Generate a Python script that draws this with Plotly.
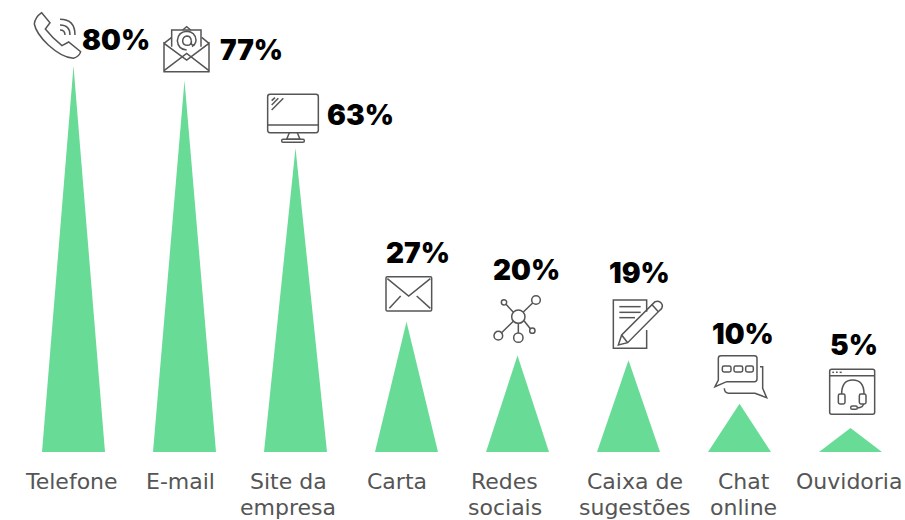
import re
import plotly.graph_objects as go

categories = ["Telefone", "E-mail", "Site da<br>empresa", "Carta", "Redes<br>sociais",
              "Caixa de<br>sugestões", "Chat<br>online", "Ouvidoria"]
values = [80, 77, 63, 27, 20, 19, 10, 5]

W, H = 905, 520
BASE = 452          # pixel row of the baseline
PX_PER_UNIT = 4.825
STEP = 111
FIRST = 73.5
HALF = 31.5 / STEP
GREEN = "#68DB96"
GREY = "#555555"
LABEL_FONT = "DejaVu Sans"
LINE_GAP = 26

# pixel offsets of the labels from their marks
label_dx = [-2.5, -4.5, -7.5, -9.5, -13, 6, 4, -2]
value_dx = [42.5, 66.5, 64.5, 11, 9, 11, 3, 3]
value_dy = [26, 30, 33, 69, 85.5, 87, 70, 83]


def px(x):
    return x / W


def py(y):
    return (BASE - y) / BASE


def path_shape(d, ox, oy):
    """Icon outline: d is written in 3x zoom units around pixel origin (ox, oy)."""
    toks = re.findall(r"[MLQCZ]|-?\d+\.?\d*", d)
    out, is_x = [], True
    for t in toks:
        if t in "MLQCZ":
            out.append(t)
            is_x = True
        else:
            v = float(t) / 3
            out.append(f"{px(ox + v):.5f}" if is_x else f"{py(oy + v):.5f}")
            is_x = not is_x
    s = []
    i = 0
    while i < len(out):
        t = out[i]
        if t == "Z":
            s.append("Z")
            i += 1
        else:
            j = i + 1
            nums = []
            while j < len(out) and out[j] not in "MLQCZ":
                nums.append(out[j])
                j += 1
            s.append(t + " ".join(f"{nums[k]},{nums[k+1]}" for k in range(0, len(nums), 2)))
            i = j
    return dict(type="path", xref="paper", yref="paper", path=" ".join(s),
                line=dict(color=GREY, width=1.5), layer="above")


def circ(cx, cy, r, ox, oy, width=1.5):
    return dict(type="circle", xref="paper", yref="paper",
                x0=px(ox + (cx - r) / 3), x1=px(ox + (cx + r) / 3),
                y0=py(oy + (cy + r) / 3), y1=py(oy + (cy - r) / 3),
                line=dict(color=GREY, width=width), layer="above")


def rrect(x0, y0, x1, y1, r):
    return (f"M{x0 + r},{y0} L{x1 - r},{y0} Q{x1},{y0} {x1},{y0 + r} L{x1},{y1 - r} "
            f"Q{x1},{y1} {x1 - r},{y1} L{x0 + r},{y1} Q{x0},{y1} {x0},{y1 - r} "
            f"L{x0},{y0 + r} Q{x0},{y0} {x0 + r},{y0} Z")


shapes = []
# phone
O = (20, 0)
for d in [
    "M65,38 Q45,52 43,72 Q48,100 85,135 Q125,172 160,175 Q178,170 182,155 L146,126 L126,137 Q98,115 76,87 L90,68 Z",
    "M120,90 Q135,90 135,105", "M120,75 Q150,75 150,105", "M120,58 Q165,58 165,105",
    # mail with letter
    "M432,130 L432,215 L567,215 L567,130 L500,180 Z", "M432,130 L455,112", "M567,130 L545,112",
    "M432,212 L500,160 L567,212", "M455,140 L455,90 L543,90 L543,140",
    "M488,90 L500,80 L512,90",
    "M516,140 Q528,132 528,120 Q526,96 500,94 Q474,96 472,122 Q474,148 500,150",
    "M514,122 Q512,108 500,108 Q488,110 488,124 Q490,136 502,136 Q514,136 514,122 L514,130 Q516,138 524,134",
]:
    shapes.append(path_shape(d, *O))

# monitor and envelope
O = (250, 80)
for d in [
    rrect(53, 43, 205, 158, 7), "M53,135 L205,135", "M118,158 L110,178 L150,178 L142,158",
    rrect(95, 178, 163, 187, 4), "M65,62 L75,53", "M65,75 L85,55", "M65,90 L100,55",
    rrect(408, 590, 545, 693, 4), "M412,596 L476,648 L541,596", "M418,685 L452,648", "M541,685 L500,648",
]:
    shapes.append(path_shape(d, *O))

# network and notepad
O = (480, 250)
for d in [
    "M100,187 L78,163", "M130,186 L158,159", "M100,214 L64,249", "M132,212 L151,236", "M115,220 L115,249",
    "M500,185 L500,150 L400,150 L400,295 L500,295 L500,240",
    "M418,170 L482,170", "M418,187 L482,187", "M418,203 L465,203",
    "M415,285 L425,255 L525,155 Q540,150 547,165 Q548,175 540,180 L443,278 Z",
    "M425,255 L443,278", "M515,163 L535,185",
]:
    shapes.append(path_shape(d, *O))
for c in [(115, 200, 20), (168, 150, 13), (72, 157, 8), (55, 257, 13), (157, 242, 8), (115, 263, 14)]:
    shapes.append(circ(*c, *O))

# chat and help window
O = (700, 320)
for d in [
    "M45,200 L55,180 L55,115 Q55,107 63,107 L163,107 Q171,107 171,115 L171,177 Q171,185 163,185 L80,185 Z",
    rrect(67, 138, 93, 156, 5), rrect(102, 138, 128, 156, 5), rrect(137, 138, 160, 156, 5),
    "M180,140 L188,140 L188,205 L200,233 L165,220 L85,220 Q73,218 73,205",
    rrect(389, 148, 524, 283, 6), "M389,167 L524,167", "M397,157 L402,157", "M408,157 L413,157", "M419,157 L425,157",
    "M425,222 Q425,180 458,180 Q492,180 492,222",
    rrect(415, 222, 435, 252, 5), rrect(478, 222, 498, 252, 5),
    "M490,252 Q490,262 472,264", rrect(452, 258, 472, 268, 5),
]:
    shapes.append(path_shape(d, *O))

fig = go.Figure()
for i, v in enumerate(values):
    fig.add_trace(go.Scatter(x=[i - HALF, i, i + HALF], y=[0, v, 0], mode="lines", fill="toself",
                             fillcolor=GREEN, line=dict(width=0), hoverinfo="skip", showlegend=False))

annotations = []
for i, (c, v) in enumerate(zip(categories, values)):
    for k, line in enumerate(c.split("<br>")):
        annotations.append(dict(x=i, y=0, xref="x", yref="y", text=line, showarrow=False, yanchor="top",
                                xshift=label_dx[i], yshift=-15 - k * LINE_GAP, align="center",
                                font=dict(family=LABEL_FONT, size=22, color=GREY)))
    annotations.append(dict(x=i, y=v, xref="x", yref="y", text=f"{v}%", showarrow=False,
                            xanchor="center", yanchor="middle", xshift=value_dx[i], yshift=value_dy[i],
                            font=dict(family="Inter", size=28, color="#000000", weight=900)))

fig.update_layout(
    width=W, height=H, margin=dict(l=0, r=0, t=0, b=H - BASE),
    paper_bgcolor="white", plot_bgcolor="white", showlegend=False,
    xaxis=dict(range=[-FIRST / STEP, (W - FIRST) / STEP], visible=False),
    yaxis=dict(range=[0, BASE / PX_PER_UNIT], visible=False),
    annotations=annotations, shapes=shapes,
)
fig.write_html("out.html", config=dict(displayModeBar=False),
               post_script="document.body.style.margin='0';document.body.style.overflow='hidden';")
